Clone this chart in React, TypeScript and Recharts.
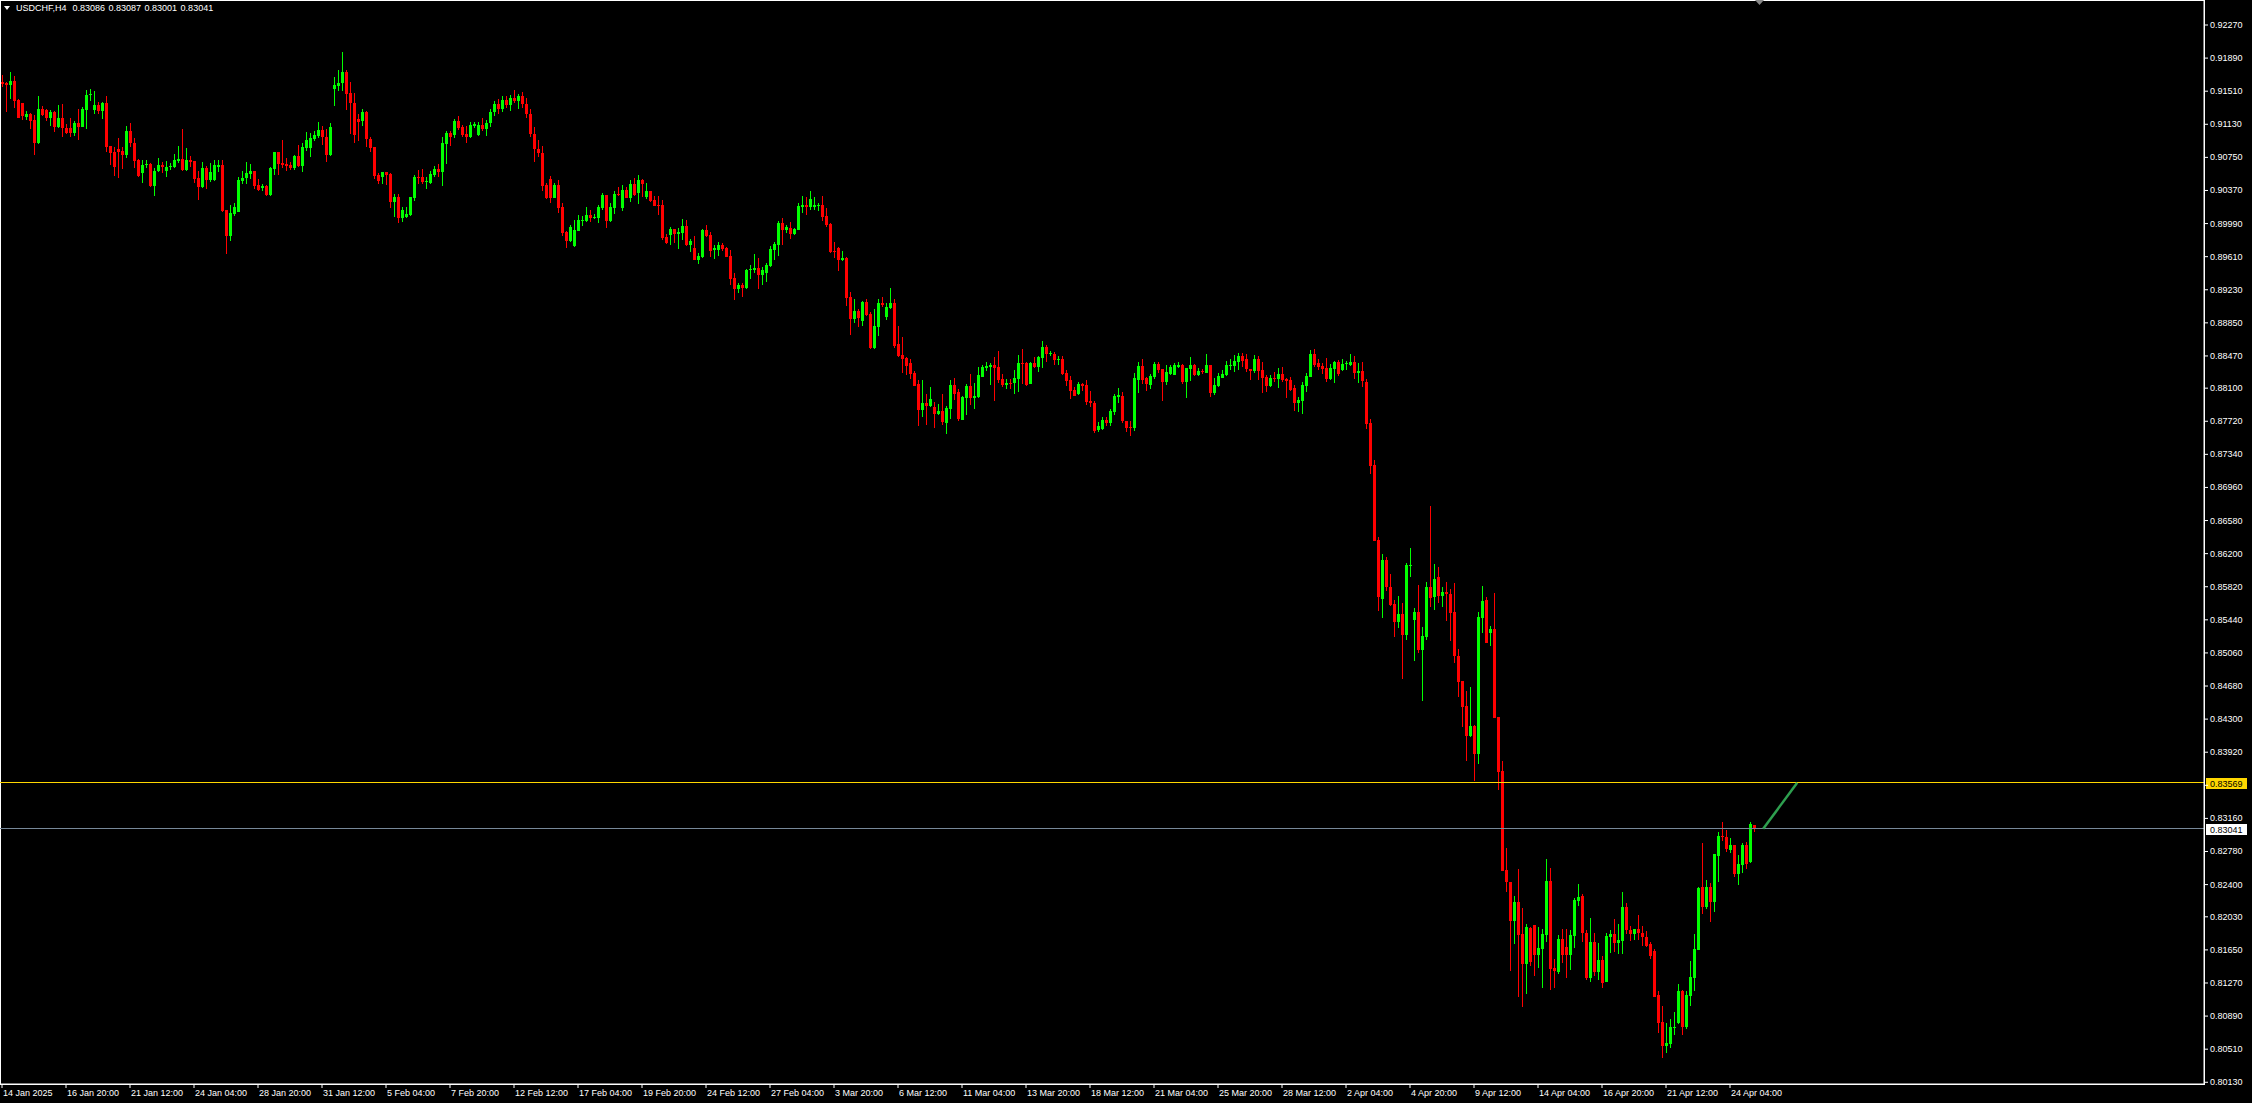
import React from 'react';
import { ComposedChart, Bar, XAxis, YAxis, ReferenceLine, ReferenceArea } from 'recharts';

const FONT = '"Liberation Sans", Arial, sans-serif';

const symbol = 'USDCHF,H4';
const lastQuote = ['0.83086', '0.83087', '0.83001', '0.83041'];

// one time label every 16 H4 bars, starting at the first bar
const labelStep = 16;
const timeLabels = [
  '14 Jan 2025', '16 Jan 20:00', '21 Jan 12:00', '24 Jan 04:00', '28 Jan 20:00', '31 Jan 12:00',
  '5 Feb 04:00', '7 Feb 20:00', '12 Feb 12:00', '17 Feb 04:00', '19 Feb 20:00', '24 Feb 12:00',
  '27 Feb 04:00', '3 Mar 20:00', '6 Mar 12:00', '11 Mar 04:00', '13 Mar 20:00', '18 Mar 12:00',
  '21 Mar 04:00', '25 Mar 20:00', '28 Mar 12:00', '2 Apr 04:00', '4 Apr 20:00', '9 Apr 12:00',
  '14 Apr 04:00', '16 Apr 20:00', '21 Apr 12:00', '24 Apr 04:00',
];

const priceTicks = [
  0.9227, 0.9189, 0.9151, 0.9113, 0.9075, 0.9037, 0.8999, 0.8961, 0.8923, 0.8885, 0.8847,
  0.881, 0.8772, 0.8734, 0.8696, 0.8658, 0.862, 0.8582, 0.8544, 0.8506, 0.8468, 0.843,
  0.8392, 0.8354, 0.8316, 0.8278, 0.824, 0.8203, 0.8165, 0.8127, 0.8089, 0.8051, 0.8013,
];

// visible price range of the window
const priceMin = 0.801102;
const priceMax = 0.925571;

const levelLine = 0.83569; // yellow horizontal line
const bidLine = 0.83041; // current bid
// trend line anchors: [bar, price]
const trendFrom = [440.3, 0.83041];
const trendTo = [448.8, 0.83569];
const lastSlot = 550.5;

// [open, high, low, close]
const janBars = [
  [0.9162, 0.91696, 0.91554, 0.91593], [0.91608, 0.9162, 0.91275, 0.91585], [0.91581, 0.91727, 0.91417, 0.91627],
  [0.91627, 0.91685, 0.91313, 0.91398], [0.91409, 0.91415, 0.912, 0.91206], [0.91375, 0.9138, 0.9118, 0.91225],
  [0.91214, 0.91283, 0.9118, 0.91248], [0.91248, 0.91256, 0.91072, 0.91168], [0.9118, 0.91237, 0.90778, 0.90919],
  [0.90912, 0.91455, 0.90904, 0.91306], [0.91306, 0.9134, 0.91225, 0.91237], [0.91294, 0.91306, 0.91168, 0.91206],
  [0.91206, 0.9129, 0.91111, 0.91275], [0.91275, 0.91287, 0.91046, 0.91095], [0.91095, 0.91352, 0.91084, 0.91206],
  [0.91206, 0.91363, 0.90988, 0.91084], [0.91091, 0.9113, 0.91015, 0.91026], [0.91084, 0.91199, 0.90988, 0.91026],
  [0.91026, 0.91168, 0.90996, 0.91149], [0.91149, 0.91302, 0.9095, 0.91103], [0.91103, 0.91333, 0.91095, 0.91306],
  [0.91294, 0.91524, 0.91076, 0.91467], [0.91467, 0.91535, 0.91398, 0.91482], [0.91294, 0.91512, 0.91248, 0.91352],
  [0.91352, 0.9139, 0.91248, 0.91283], [0.91283, 0.9139, 0.91191, 0.91379], [0.91379, 0.91455, 0.90808, 0.90873],
  [0.90881, 0.90881, 0.90663, 0.90804], [0.90816, 0.90866, 0.90537, 0.90644], [0.90847, 0.90977, 0.9051, 0.90816],
  [0.90824, 0.90866, 0.90617, 0.90778], [0.90778, 0.91111, 0.90747, 0.91057], [0.91057, 0.91149, 0.90873, 0.90919],
  [0.90919, 0.90977, 0.90632, 0.90713], [0.9072, 0.90728, 0.90521, 0.90537], [0.90575, 0.9072, 0.9046, 0.90663],
  [0.90663, 0.9072, 0.90625, 0.90678], [0.9067, 0.90682, 0.90414, 0.90426], [0.90426, 0.90632, 0.90311, 0.90594],
  [0.90594, 0.90747, 0.90579, 0.90663], [0.90663, 0.90693, 0.90575, 0.9064], [0.90594, 0.90709, 0.90529, 0.9064],
  [0.9064, 0.9069, 0.90605, 0.90655], [0.9064, 0.90789, 0.90625, 0.9072], [0.90713, 0.90881, 0.9069, 0.90732],
  [0.90732, 0.91076, 0.90598, 0.90605], [0.90605, 0.90854, 0.90598, 0.9072], [0.9072, 0.90766, 0.90644, 0.90701],
  [0.90709, 0.9071, 0.9046, 0.90502], [0.9051, 0.90594, 0.90261, 0.9041], [0.9041, 0.90701, 0.90403, 0.90628],
  [0.90628, 0.90651, 0.90387, 0.90491], [0.90491, 0.90682, 0.90472, 0.90582], [0.90491, 0.9072, 0.90483, 0.90663],
  [0.90636, 0.9072, 0.90586, 0.90663], [0.90663, 0.9072, 0.90127, 0.90135], [0.90146, 0.90146, 0.89641, 0.89851],
  [0.89851, 0.90204, 0.89794, 0.90108], [0.901, 0.90223, 0.90081, 0.90185], [0.90127, 0.90529, 0.90119, 0.90491],
  [0.90479, 0.90594, 0.90445, 0.90517], [0.90517, 0.90693, 0.90445, 0.90571], [0.90563, 0.9067, 0.90502, 0.90594],
  [0.90594, 0.90598, 0.90387, 0.90426], [0.90433, 0.90498, 0.90368, 0.90376], [0.90395, 0.90441, 0.90368, 0.90426],
  [0.90426, 0.90428, 0.90311, 0.90318], [0.90318, 0.90644, 0.90311, 0.90632], [0.90617, 0.90814, 0.90548, 0.90812],
  [0.90812, 0.90814, 0.90548, 0.90674], [0.90686, 0.9095, 0.90632, 0.90663], [0.90674, 0.90739, 0.90594, 0.90651],
  [0.90667, 0.90693, 0.90605, 0.90632], [0.90625, 0.90778, 0.90605, 0.9077], [0.9077, 0.90892, 0.90644, 0.90651],
  [0.90651, 0.90912, 0.90586, 0.9087], [0.90862, 0.91038, 0.90824, 0.9095], [0.90862, 0.91034, 0.90759, 0.90969],
  [0.90961, 0.91057, 0.90938, 0.91007], [0.90996, 0.91153, 0.90969, 0.91065], [0.91065, 0.91115, 0.90892, 0.90988],
  [0.90988, 0.91072, 0.90701, 0.90778], [0.90778, 0.91141, 0.9077, 0.91095],
];

const febBars = [
  [0.91535, 0.91677, 0.91344, 0.91581], [0.91574, 0.91754, 0.91512, 0.91608], [0.916, 0.91956, 0.91516, 0.91734],
  [0.91727, 0.91754, 0.91294, 0.91478], [0.91486, 0.9162, 0.91019, 0.91371], [0.91379, 0.91486, 0.90919, 0.91007],
  [0.91191, 0.91248, 0.90938, 0.9116], [0.91168, 0.91306, 0.91115, 0.91275], [0.91275, 0.91287, 0.90866, 0.90958],
  [0.90961, 0.90988, 0.90816, 0.90862], [0.9087, 0.90873, 0.90498, 0.9054], [0.90548, 0.90575, 0.90445, 0.90483],
  [0.90529, 0.90582, 0.90441, 0.90579], [0.90582, 0.90584, 0.90433, 0.90548], [0.90559, 0.90567, 0.90173, 0.90242],
  [0.90242, 0.90326, 0.90062, 0.90295], [0.90295, 0.90326, 0.89999, 0.90058], [0.90058, 0.90185, 0.90012, 0.90146],
  [0.90066, 0.90185, 0.90058, 0.90104], [0.90089, 0.90299, 0.90081, 0.90295], [0.90288, 0.90548, 0.9025, 0.90525],
  [0.90529, 0.90605, 0.90441, 0.90517], [0.90525, 0.90613, 0.90445, 0.90472], [0.90468, 0.90529, 0.90387, 0.90479],
  [0.9046, 0.90598, 0.90445, 0.90559], [0.90548, 0.90651, 0.90529, 0.90617], [0.90617, 0.90674, 0.90529, 0.90586],
  [0.90586, 0.90988, 0.90426, 0.90912], [0.90904, 0.91053, 0.90674, 0.91026], [0.91026, 0.91053, 0.90881, 0.9098],
  [0.91007, 0.91187, 0.90969, 0.91168], [0.91168, 0.91225, 0.91065, 0.91091], [0.91095, 0.91122, 0.90988, 0.91007],
  [0.91019, 0.91111, 0.90919, 0.90988], [0.90988, 0.91153, 0.90977, 0.91118], [0.91111, 0.9116, 0.91091, 0.9113],
  [0.91007, 0.9116, 0.91, 0.91122], [0.91122, 0.912, 0.9105, 0.9108], [0.9108, 0.9118, 0.91, 0.9115],
  [0.9115, 0.913, 0.911, 0.9127], [0.9127, 0.914, 0.9122, 0.9136], [0.9136, 0.9142, 0.9125, 0.913],
  [0.913, 0.9145, 0.9127, 0.9141], [0.9141, 0.9146, 0.9132, 0.9135], [0.9135, 0.9147, 0.9128, 0.9143],
  [0.9143, 0.9152, 0.9137, 0.914], [0.914, 0.9148, 0.913, 0.9145], [0.9145, 0.915, 0.9132, 0.9136],
  [0.9136, 0.9143, 0.912, 0.9125], [0.9125, 0.913, 0.9098, 0.9102], [0.9102, 0.911, 0.907, 0.9085],
  [0.9085, 0.9095, 0.9075, 0.908], [0.908, 0.9088, 0.9036, 0.90425], [0.90433, 0.90452, 0.90276, 0.90288],
  [0.90502, 0.90536, 0.9023, 0.90288], [0.90288, 0.90452, 0.9028, 0.90433], [0.90433, 0.9049, 0.90108, 0.90173],
  [0.9018, 0.9023, 0.89847, 0.89886], [0.89897, 0.89909, 0.89714, 0.8979], [0.8979, 0.89974, 0.89775, 0.89951],
  [0.89733, 0.90031, 0.89725, 0.89916], [0.89909, 0.90089, 0.89905, 0.90031], [0.9002, 0.90077, 0.89966, 0.90031],
  [0.9002, 0.9018, 0.90012, 0.90089], [0.90089, 0.90146, 0.90008, 0.90058], [0.90054, 0.90096, 0.90046, 0.90066],
  [0.90058, 0.90203, 0.90001, 0.9018], [0.90173, 0.90341, 0.90146, 0.90322], [0.90318, 0.90322, 0.89943, 0.9002],
  [0.9002, 0.90226, 0.90012, 0.9018], [0.90173, 0.90364, 0.901, 0.90333], [0.90333, 0.90406, 0.90311, 0.90318],
  [0.90173, 0.90433, 0.90134, 0.90379], [0.90379, 0.9041, 0.9028, 0.90288], [0.90288, 0.9049, 0.90242, 0.90448],
  [0.90448, 0.9051, 0.90307, 0.90318], [0.90345, 0.90548, 0.90219, 0.9049], [0.9049, 0.90498, 0.90299, 0.90448],
  [0.90295, 0.90456, 0.90272, 0.90364], [0.90364, 0.90368, 0.90242, 0.90249], [0.90265, 0.90307, 0.90192, 0.90196],
  [0.90207, 0.90307, 0.90089, 0.90196], [0.90203, 0.90261, 0.89802, 0.89828], [0.89836, 0.8987, 0.89752, 0.89771],
  [0.89863, 0.89955, 0.89748, 0.89928], [0.89928, 0.8993, 0.89771, 0.8987], [0.89874, 0.89935, 0.89698, 0.89893],
  [0.89882, 0.90043, 0.89802, 0.89966], [0.89966, 0.90031, 0.89736, 0.89744], [0.89744, 0.89809, 0.89668, 0.89794],
  [0.8971, 0.89847, 0.8957, 0.89572], [0.89572, 0.89648, 0.89526, 0.89618], [0.89606, 0.89932, 0.89599, 0.8992],
  [0.8992, 0.89974, 0.89832, 0.89847], [0.89859, 0.89897, 0.89606, 0.89675], [0.89687, 0.89744, 0.89583, 0.89714],
  [0.89687, 0.89779, 0.89622, 0.89744], [0.89744, 0.89763, 0.89675, 0.89698], [0.8971, 0.89717, 0.89603, 0.89606],
  [0.89618, 0.89687, 0.89285, 0.89354], [0.89365, 0.89419, 0.89113, 0.89239], [0.89239, 0.89304, 0.89197, 0.89285],
  [0.89285, 0.89304, 0.89151, 0.8925], [0.8925, 0.89469, 0.89239, 0.89457], [0.89461, 0.89514, 0.89358, 0.89472],
  [0.89461, 0.89641, 0.89426, 0.89484], [0.89476, 0.89599, 0.89239, 0.894], [0.894, 0.89495, 0.89285, 0.89453],
  [0.89423, 0.89537, 0.89319, 0.89511], [0.89503, 0.89733, 0.89495, 0.89698], [0.89687, 0.89779, 0.89572, 0.89752],
  [0.89744, 0.9002, 0.89622, 0.89997], [0.89997, 0.9005, 0.89744, 0.8992], [0.8992, 0.89974, 0.89878, 0.89955],
  [0.89939, 0.90008, 0.89813, 0.89874], [0.8987, 0.89943, 0.89859, 0.89928], [0.8992, 0.9023, 0.89916, 0.90196],
  [0.90184, 0.90307, 0.90115, 0.90203], [0.90203, 0.90295, 0.90089, 0.90184], [0.90184, 0.90364, 0.90146, 0.90272],
];

const marBars = [
  [0.90184, 0.90299, 0.90146, 0.90203], [0.90199, 0.9023, 0.90138, 0.90207], [0.90203, 0.90307, 0.9002, 0.90066],
  [0.90077, 0.90165, 0.89947, 0.8997], [0.89985, 0.89993, 0.89656, 0.89664], [0.89679, 0.89779, 0.89591, 0.89671],
  [0.8971, 0.89717, 0.89446, 0.89572], [0.89572, 0.89675, 0.8956, 0.89595], [0.89595, 0.89603, 0.89048, 0.89139],
  [0.89147, 0.89201, 0.88711, 0.88895], [0.88895, 0.8912, 0.88852, 0.88986], [0.88986, 0.89006, 0.88807, 0.8891],
  [0.88872, 0.89101, 0.88814, 0.89094], [0.89094, 0.8912, 0.88933, 0.8894], [0.88956, 0.88979, 0.8855, 0.88565],
  [0.88558, 0.89009, 0.8855, 0.88814], [0.88807, 0.89124, 0.88703, 0.89078], [0.89078, 0.89151, 0.89028, 0.89055],
  [0.88917, 0.89074, 0.88883, 0.89032], [0.89017, 0.8925, 0.89009, 0.89078], [0.89078, 0.89124, 0.88565, 0.88588],
  [0.88611, 0.88814, 0.88454, 0.88474], [0.88481, 0.88688, 0.88271, 0.88435], [0.88447, 0.88462, 0.88252, 0.88359],
  [0.88389, 0.88431, 0.88206, 0.88263], [0.88271, 0.88301, 0.88125, 0.88129], [0.88148, 0.88194, 0.8767, 0.8785],
  [0.8785, 0.88194, 0.87773, 0.8793], [0.8793, 0.88029, 0.87677, 0.879], [0.879, 0.8811, 0.87888, 0.87976],
  [0.87884, 0.87945, 0.87647, 0.87804], [0.87804, 0.87915, 0.87792, 0.87838], [0.87838, 0.88029, 0.87677, 0.87712],
  [0.87697, 0.87896, 0.87578, 0.87877], [0.87861, 0.88194, 0.87746, 0.88137], [0.88137, 0.88213, 0.87965, 0.88033],
  [0.88052, 0.88091, 0.87727, 0.87746], [0.87735, 0.88011, 0.87731, 0.88003], [0.87991, 0.88148, 0.87792, 0.88125],
  [0.88125, 0.88263, 0.87907, 0.87991], [0.87991, 0.88156, 0.87861, 0.88011], [0.87999, 0.88343, 0.87991, 0.88252],
  [0.88232, 0.88366, 0.88225, 0.88343], [0.88336, 0.88405, 0.88301, 0.88355], [0.88347, 0.88393, 0.88137, 0.88366],
  [0.88366, 0.88462, 0.87953, 0.88336], [0.88343, 0.88527, 0.88156, 0.88194], [0.88206, 0.88263, 0.88118, 0.88137],
  [0.88137, 0.88202, 0.88091, 0.88164], [0.88164, 0.88202, 0.88091, 0.88156], [0.88156, 0.88309, 0.88033, 0.88221],
  [0.88206, 0.88481, 0.8806, 0.88393], [0.88393, 0.8855, 0.88144, 0.88382], [0.88393, 0.88405, 0.88129, 0.88137],
  [0.88148, 0.88405, 0.88144, 0.88393], [0.88393, 0.88454, 0.88336, 0.88343], [0.88343, 0.8847, 0.8829, 0.88458],
  [0.88451, 0.88642, 0.88336, 0.88573], [0.88573, 0.88596, 0.88405, 0.88496], [0.88489, 0.88527, 0.8847, 0.88508],
  [0.88496, 0.8852, 0.88366, 0.88424], [0.88428, 0.8847, 0.88366, 0.88439], [0.88435, 0.8847, 0.88252, 0.88263],
  [0.88275, 0.88309, 0.88129, 0.88183], [0.88194, 0.8824, 0.87976, 0.88068], [0.88083, 0.88118, 0.8801, 0.88011],
  [0.8803, 0.88175, 0.88022, 0.88148], [0.88148, 0.88164, 0.88072, 0.88129], [0.88137, 0.88194, 0.87907, 0.87942],
  [0.87953, 0.88068, 0.8788, 0.87926], [0.87926, 0.87953, 0.87589, 0.87609], [0.8762, 0.87708, 0.87601, 0.87662],
  [0.87628, 0.87765, 0.8762, 0.87735], [0.87735, 0.87765, 0.87666, 0.87697], [0.87697, 0.87857, 0.87666, 0.87842],
  [0.87831, 0.88033, 0.87792, 0.88011], [0.88003, 0.88098, 0.87926, 0.88022], [0.88011, 0.88056, 0.87697, 0.87723],
  [0.87723, 0.87725, 0.87601, 0.87647], [0.87658, 0.87723, 0.87555, 0.87647], [0.87647, 0.88271, 0.87612, 0.88213],
  [0.88194, 0.88397, 0.88049, 0.88355], [0.88355, 0.88431, 0.88148, 0.88194], [0.88217, 0.88232, 0.88072, 0.88148],
  [0.88137, 0.88263, 0.88091, 0.8824], [0.88232, 0.88397, 0.88206, 0.88382], [0.88382, 0.88397, 0.88271, 0.88309],
  [0.88317, 0.88324, 0.87957, 0.88175], [0.88175, 0.88366, 0.88137, 0.88286], [0.88267, 0.88366, 0.88252, 0.88343],
  [0.88252, 0.88393, 0.8825, 0.88366], [0.88347, 0.88401, 0.88336, 0.88366], [0.88366, 0.88378, 0.88148, 0.88167],
  [0.88175, 0.88336, 0.87991, 0.88328], [0.88321, 0.88462, 0.88183, 0.88366], [0.88366, 0.88378, 0.88244, 0.88252],
  [0.88252, 0.88336, 0.8824, 0.88301], [0.88301, 0.88321, 0.88263, 0.88282], [0.88278, 0.88493, 0.88271, 0.88366],
  [0.88366, 0.88368, 0.88003, 0.88041], [0.88041, 0.88213, 0.88022, 0.88137], [0.88129, 0.88278, 0.88118, 0.8824],
  [0.88221, 0.88309, 0.88213, 0.88263], [0.88252, 0.88412, 0.88244, 0.88366], [0.88359, 0.88431, 0.88309, 0.8837],
  [0.88359, 0.88481, 0.8829, 0.88412], [0.88405, 0.88508, 0.88309, 0.8847], [0.8847, 0.885, 0.88347, 0.88416],
  [0.88431, 0.88493, 0.8829, 0.88317], [0.88317, 0.88318, 0.88194, 0.88301], [0.88301, 0.88481, 0.88278, 0.88431],
  [0.88431, 0.8847, 0.88194, 0.88301], [0.88309, 0.88405, 0.88041, 0.88221], [0.88232, 0.88252, 0.8806, 0.88129],
  [0.88125, 0.88252, 0.88118, 0.88213], [0.88217, 0.8829, 0.88175, 0.88206], [0.88206, 0.88328, 0.88098, 0.88263],
  [0.88263, 0.88347, 0.88175, 0.88194], [0.88206, 0.88221, 0.87991, 0.88187], [0.88194, 0.88232, 0.88068, 0.88079],
  [0.88102, 0.88137, 0.87842, 0.87934], [0.87934, 0.88003, 0.87831, 0.87965], [0.87953, 0.88175, 0.87804, 0.88137],
  [0.88129, 0.88271, 0.8806, 0.8824], [0.88232, 0.88539, 0.88225, 0.88493], [0.88493, 0.8855, 0.88347, 0.88366],
];

const aprBars = [
  [0.88393, 0.88435, 0.88309, 0.88343], [0.88359, 0.88385, 0.88263, 0.88321], [0.88336, 0.88451, 0.88175, 0.88206],
  [0.88206, 0.88374, 0.88194, 0.88328], [0.88317, 0.88416, 0.88164, 0.88405], [0.88405, 0.88424, 0.88244, 0.88263],
  [0.88309, 0.88435, 0.88301, 0.88378], [0.88374, 0.88412, 0.88309, 0.88385], [0.88366, 0.88493, 0.88359, 0.88405],
  [0.88405, 0.8847, 0.88206, 0.88278], [0.88278, 0.88393, 0.88156, 0.88301], [0.88301, 0.88405, 0.88118, 0.88183],
  [0.88175, 0.88202, 0.87632, 0.87689], [0.87704, 0.87746, 0.87115, 0.87211], [0.87218, 0.87276, 0.8635, 0.8635],
  [0.86357, 0.86388, 0.85546, 0.85706], [0.85676, 0.86196, 0.85465, 0.86127], [0.86127, 0.86166, 0.85775, 0.85821],
  [0.85821, 0.85963, 0.85603, 0.85611], [0.85622, 0.85668, 0.85247, 0.8542], [0.8542, 0.85714, 0.85343, 0.85508],
  [0.85508, 0.8563, 0.84761, 0.85266], [0.85266, 0.86097, 0.85209, 0.8607], [0.86066, 0.86269, 0.85936, 0.8607],
  [0.85439, 0.8558, 0.84968, 0.85531], [0.85531, 0.8584, 0.85056, 0.85094], [0.85094, 0.85354, 0.84509, 0.85255],
  [0.85247, 0.85879, 0.85209, 0.85821], [0.85821, 0.86748, 0.85592, 0.85695], [0.85706, 0.86082, 0.85554, 0.85909],
  [0.85932, 0.86047, 0.8563, 0.85718], [0.85718, 0.85817, 0.85591, 0.85764], [0.85764, 0.85875, 0.85431, 0.85741],
  [0.85741, 0.85794, 0.85201, 0.85523], [0.8553, 0.85863, 0.84949, 0.85029], [0.85025, 0.85105, 0.84558, 0.8473],
  [0.84738, 0.8474, 0.84214, 0.84443], [0.84451, 0.84623, 0.8382, 0.8411], [0.84106, 0.84669, 0.84091, 0.84221],
  [0.84221, 0.84233, 0.83594, 0.83904], [0.83904, 0.8553, 0.83789, 0.85473], [0.85465, 0.85829, 0.85293, 0.85656],
  [0.85668, 0.85702, 0.85175, 0.85178], [0.85285, 0.85369, 0.85144, 0.85335], [0.85335, 0.85752, 0.84315, 0.84317],
  [0.84325, 0.84328, 0.83487, 0.83697], [0.83705, 0.8382, 0.82558, 0.8256], [0.82568, 0.82817, 0.82319, 0.82434],
  [0.82426, 0.82426, 0.81412, 0.81986], [0.81986, 0.82269, 0.81718, 0.82196], [0.82196, 0.82579, 0.81113, 0.81821],
  [0.81833, 0.82128, 0.80999, 0.81488], [0.81488, 0.81948, 0.81144, 0.81913], [0.81906, 0.81917, 0.81465, 0.81515],
  [0.81936, 0.81936, 0.81351, 0.81592], [0.81592, 0.81917, 0.81446, 0.81676], [0.81661, 0.8189, 0.81217, 0.81833],
  [0.81821, 0.82694, 0.81745, 0.82441], [0.82441, 0.82591, 0.8119, 0.81431], [0.81446, 0.81546, 0.81217, 0.81408],
  [0.81393, 0.81821, 0.81374, 0.81776], [0.81776, 0.8189, 0.81504, 0.81592], [0.8168, 0.8189, 0.81332, 0.81592],
  [0.81592, 0.81879, 0.81419, 0.81821], [0.8181, 0.82242, 0.81676, 0.82223], [0.82216, 0.82407, 0.82158, 0.82262],
  [0.82269, 0.82292, 0.81745, 0.81841], [0.81841, 0.81879, 0.81305, 0.81332], [0.81332, 0.82013, 0.81286, 0.81737],
  [0.81737, 0.81841, 0.81351, 0.81401], [0.81401, 0.81726, 0.81305, 0.81534], [0.81534, 0.8158, 0.81217, 0.81274],
  [0.81286, 0.81841, 0.81278, 0.8181], [0.81802, 0.81879, 0.81611, 0.81833], [0.81833, 0.82005, 0.8163, 0.81726],
  [0.81726, 0.81948, 0.81603, 0.81764], [0.81753, 0.82311, 0.81603, 0.82143], [0.82143, 0.82185, 0.81833, 0.81879],
  [0.81879, 0.81925, 0.81756, 0.81833], [0.81833, 0.81895, 0.81764, 0.8189], [0.8189, 0.82051, 0.81764, 0.81841],
  [0.81841, 0.81925, 0.81699, 0.81795], [0.81795, 0.81867, 0.81688, 0.81699], [0.81718, 0.81737, 0.81546, 0.81584],
  [0.81638, 0.81661, 0.81104, 0.81106], [0.81133, 0.81179, 0.807, 0.80815], [0.80819, 0.81006, 0.80405, 0.80551],
  [0.80551, 0.80807, 0.8047, 0.80582], [0.8057, 0.80857, 0.80528, 0.80765], [0.80758, 0.80934, 0.80673, 0.80769],
  [0.80815, 0.81259, 0.80796, 0.81179], [0.81179, 0.8119, 0.80673, 0.80769], [0.80769, 0.81179, 0.80738, 0.81133],
  [0.81125, 0.81523, 0.81006, 0.81335], [0.81332, 0.81833, 0.81179, 0.81661], [0.81649, 0.8237, 0.81645, 0.82365],
  [0.82369, 0.82874, 0.82063, 0.82147], [0.82139, 0.82453, 0.8212, 0.82369], [0.82369, 0.82415, 0.81974, 0.82204],
  [0.82204, 0.82755, 0.82089, 0.82751], [0.82732, 0.83008, 0.82434, 0.82958], [0.82958, 0.83123, 0.82901, 0.82943],
  [0.82943, 0.83027, 0.82778, 0.82809], [0.82797, 0.82931, 0.82767, 0.82855], [0.82855, 0.82857, 0.82484, 0.82522],
  [0.82522, 0.8274, 0.82396, 0.82637], [0.82625, 0.82874, 0.8253, 0.82855], [0.82855, 0.82885, 0.82579, 0.82637],
  [0.82656, 0.83115, 0.82652, 0.83096], [0.83086, 0.83087, 0.83001, 0.83041],
];

const rows = [...janBars, ...febBars, ...marBars, ...aprBars].map(([o, h, l, c], i) => ({
  i, o, h, l, c, range: [l, h],
}));
const timeTicks = timeLabels.map((_, k) => k * labelStep);

const UP = '#00ff00';
const DOWN = '#ff0000';

function Candle(props: any) {
  const { x, y, width, height, payload } = props;
  if (!payload) return null;
  const { o, h, l, c } = payload;
  const cx = Math.round(x + width / 2);
  const k = height / (h - l);
  const yo = y + (h - o) * k;
  const yc = y + (h - c) * k;
  const color = c >= o ? UP : DOWN;
  const top = Math.round(Math.min(yo, yc));
  const bot = Math.round(Math.max(yo, yc));
  const wt = Math.round(y);
  const wb = Math.round(y + height);
  return (
    <g shapeRendering="crispEdges">
      <rect x={cx} y={wt} width={1} height={Math.max(1, wb - wt)} fill={color} />
      <rect x={cx - 1} y={top} width={3} height={Math.max(1, bot - top)} fill={color} />
    </g>
  );
}

function TimeTick({ x, y, payload }: any) {
  const label = timeLabels[Math.round(payload.value / labelStep)];
  return (
    <text x={x + 1} y={y + 8} fill="#fff" fontSize={9} fontFamily={FONT}>
      {label}
    </text>
  );
}

// the level box covers the price label that sits right under it
function PriceTick({ x, y, payload }: any) {
  if (Math.abs(payload.value - levelLine) < 0.0005) return null;
  return (
    <text x={x} y={y + 3} fill="#fff" fontSize={9} fontFamily={FONT}>
      {payload.value.toFixed(5)}
    </text>
  );
}

function PriceBox({ viewBox, text, bg, fg }: any) {
  if (!viewBox) return null;
  const left = viewBox.x + viewBox.width + 2;
  const yy = Math.round(viewBox.y);
  return (
    <g>
      <rect x={left} y={yy - 5} width={41} height={11} fill={bg} shapeRendering="crispEdges" />
      <text x={left + 4} y={yy + 4} fill={fg} fontSize={9} fontFamily={FONT}>
        {text}
      </text>
    </g>
  );
}

export default function App() {
  return (
    <div style={{ position: 'fixed', left: 0, top: 0, width: 2252, height: 1103, background: '#000' }}>
      <ComposedChart
        width={2252}
        height={1103}
        data={rows}
        margin={{ top: 0, right: 0, bottom: 0, left: 0 }}
      >
        <XAxis
          type="number"
          dataKey="i"
          domain={[-0.5, lastSlot]}
          allowDataOverflow
          ticks={timeTicks}
          interval={0}
          height={19}
          tick={<TimeTick />}
          tickSize={4}
          tickMargin={0}
          tickLine={{ stroke: '#fff' }}
          axisLine={{ stroke: '#fff' }}
        />
        <YAxis
          orientation="right"
          type="number"
          domain={[priceMin, priceMax]}
          allowDataOverflow
          ticks={priceTicks}
          interval={0}
          width={48}
          tick={<PriceTick />}
          tickSize={4}
          tickMargin={2}
          tickLine={{ stroke: '#fff' }}
          axisLine={{ stroke: '#fff' }}
        />
        <ReferenceArea
          x1={-0.5}
          x2={lastSlot}
          y1={priceMin}
          y2={priceMax}
          fill="none"
          stroke="#fff"
          shapeRendering="crispEdges"
        />
        <Bar dataKey="range" barSize={3} shape={<Candle />} isAnimationActive={false} />
        <ReferenceLine
          y={levelLine}
          stroke="#ffd700"
          shapeRendering="crispEdges"
          label={<PriceBox text={levelLine.toFixed(5)} bg="#ffd700" fg="#000" />}
        />
        <ReferenceLine
          y={bidLine}
          stroke="#778899"
          shapeRendering="crispEdges"
          label={<PriceBox text={bidLine.toFixed(5)} bg="#fff" fg="#000" />}
        />
        <ReferenceLine
          segment={[
            { x: trendFrom[0], y: trendFrom[1] },
            { x: trendTo[0], y: trendTo[1] },
          ]}
          stroke="#2e9f4f"
          strokeWidth={2.5}
        />
      </ComposedChart>
      <div
        style={{
          position: 'absolute', left: 0, top: 0, height: 16, display: 'flex', alignItems: 'center',
          color: '#fff', fontFamily: FONT, fontSize: 9, whiteSpace: 'pre', pointerEvents: 'none',
        }}
      >
        <svg width={16} height={16} style={{ display: 'block' }}>
          <polygon points="4,6 10,6 7,10" fill="#fff" />
        </svg>
        <span>{symbol}</span>
        <span style={{ marginLeft: 6, wordSpacing: 1 }}>{lastQuote.join(' ')}</span>
      </div>
      <svg width={12} height={6} style={{ position: 'absolute', left: 1754, top: 0 }}>
        <polygon points="1,0 10,0 5.5,5" fill="#888" />
      </svg>
    </div>
  );
}
